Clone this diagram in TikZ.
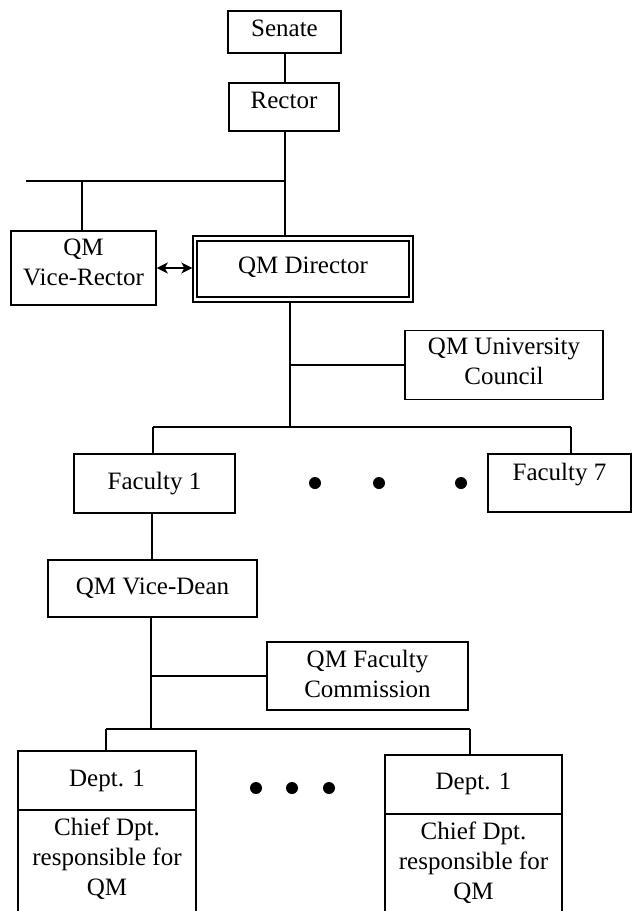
\documentclass[tikz,border=0pt]{standalone}
\usepackage{fontspec}
\setmainfont{Liberation Serif}
\usetikzlibrary{arrows.meta}
\newcommand\lowr[1]{\rule[-#1]{0pt}{#1}}
\tikzset{
  box/.style={draw, line width=1.5pt, rectangle, inner sep=0pt, align=center,
    font=\fontsize{25}{30}\selectfont},
  conn/.style={line width=1.5pt},
  dot/.style={circle, fill, inner sep=0pt, minimum size=12pt},
}
\begin{document}
\begin{tikzpicture}[x=1pt,y=-1pt]
\useasboundingbox (0,0) rectangle (635,911);
\clip (0,0) rectangle (635,911);
\fill[white] (0,0) rectangle (635,911);

% boxes
\node[box, minimum width=113pt, minimum height=42pt] (senate) at (284.5,32) {Senate\lowr{6.6pt}};
\node[box, minimum width=110pt, minimum height=48pt] (rector) at (284,107) {Rector\lowr{13pt}};
\node[box, minimum width=145pt, minimum height=74pt] (vicer) at (83.5,268) {QM\\Vice-Rector\lowr{12pt}};
\node[box, line width=2.3pt, minimum width=212pt, minimum height=56pt] (dirin) at (303,269) {QM Director\lowr{8pt}};
\node[draw, line width=1.3pt, inner sep=0pt, minimum width=220pt, minimum height=66pt] (dirout) at (303,269) {};
\node[box, minimum width=198pt, minimum height=69pt] (uc) at (504,365) {QM University\\Council\lowr{7pt}};
\node[box, minimum width=161pt, minimum height=59pt] (fac1) at (154.5,483.5) {Faculty 1\lowr{6pt}};
\node[box, minimum width=143pt, minimum height=58pt] (fac7) at (559.5,483) {Faculty 7\lowr{23pt}};
\node[box, minimum width=209pt, minimum height=57pt] (vdean) at (152.5,588.5) {QM Vice-Dean\lowr{5pt}};
\node[box, minimum width=201pt, minimum height=68pt] (qmfc) at (367.5,676) {QM Faculty\\Commission\lowr{5pt}};
\node[box, minimum width=178pt, minimum height=59pt] (dept1) at (107,780.5) {Dept. 1};
\node[box, minimum width=178pt, minimum height=120pt] (chief1) at (107,870) {Chief Dpt.\\responsible for\\QM\lowr{27pt}};
\node[box, minimum width=177pt, minimum height=59pt] (deptn) at (473.5,784.5) {Dept. 1\lowr{7pt}};
\node[box, minimum width=177pt, minimum height=120pt] (chiefn) at (473.5,874) {Chief Dpt.\\responsible for\\QM\lowr{27pt}};

% dots
\node[dot] (fd1) at (315,483) {};
\node[dot] (fd2) at (379,483) {};
\node[dot] (fd3) at (461,483) {};
\node[dot] (dd1) at (256,788) {};
\node[dot] (dd2) at (292,788) {};
\node[dot] (dd3) at (329,788) {};

% helper coordinates
\coordinate (busL) at (26,181);
\coordinate (busJ) at (285,181);
\coordinate (vrJ) at (82,181);
\coordinate (facJ) at (290,427);
\coordinate (f1t) at (153,427);
\coordinate (f7t) at (571,427);
\coordinate (vdJ) at (152,530);
\coordinate (dJ) at (151,729);
\coordinate (dL) at (106,729);
\coordinate (dR) at (470,729);

% connectors
\draw[conn] (busJ |- senate.south) -- (busJ |- rector.north);
\draw[conn] (busJ |- rector.south) -- (busJ |- dirout.north);
\draw[conn] (busL) -- (busJ);
\draw[conn] (vrJ) -- (vrJ |- vicer.north);
\draw[conn, {Stealth[length=11pt,width=11pt,inset=3pt]}-{Stealth[length=11pt,width=11pt,inset=3pt]}] (vicer.east) -- (dirout.west |- vicer.east);
\draw[conn] (facJ |- dirout.south) -- (facJ);
\draw[conn] (facJ |- uc.west) -- (uc.west);
\draw[conn] (f1t) -- (f7t);
\draw[conn] (f1t) -- (f1t |- fac1.north);
\draw[conn] (f7t) -- (f7t |- fac7.north);
\draw[conn] (vdJ |- fac1.south) -- (vdJ |- vdean.north);
\draw[conn] (dJ |- vdean.south) -- (dJ);
\draw[conn] (dJ |- qmfc.west) -- (qmfc.west);
\draw[conn] (dL) -- (dR);
\draw[conn] (dL) -- (dL |- dept1.north);
\draw[conn] (dR) -- (dR |- deptn.north);
\end{tikzpicture}
\end{document}
